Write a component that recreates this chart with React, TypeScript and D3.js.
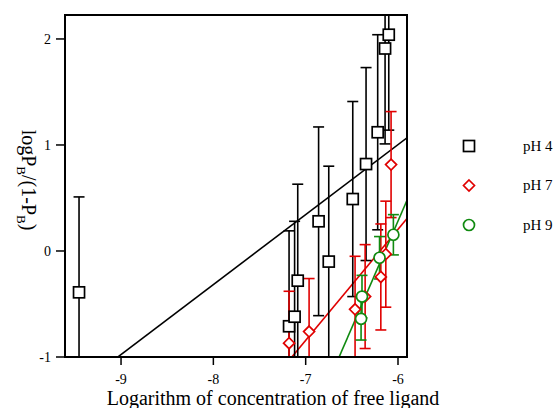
import React from "react";
import * as d3 from "d3";

// pH 4 series (black squares)
const ph4X = [-9.455, -7.18, -7.12, -7.086, -6.86, -6.75, -6.49, -6.346, -6.22, -6.14, -6.1];
const ph4Y = [-0.39, -0.71, -0.62, -0.28, 0.28, -0.1, 0.49, 0.82, 1.12, 1.91, 2.04];
const ph4Err = [0.9, 0.9, 0.9, 0.91, 0.89, 0.9, 0.92, 0.91, 0.92, 0.9, 0.9];

// pH 7 series (red diamonds)
const ph7X = [-7.18, -6.963, -6.465, -6.356, -6.186, -6.132, -6.075];
const ph7Y = [-0.87, -0.76, -0.55, -0.43, -0.245, -0.03, 0.815];
const ph7Err = [0.49, 0.5, 0.5, 0.49, 0.5, 0.5, 0.5];

// pH 9 series (green circles)
const ph9X = [-6.4, -6.39, -6.2, -6.05];
const ph9Y = [-0.64, -0.43, -0.064, 0.153];
const ph9Err = [0.2, 0.2, 0.2, 0.19];

// linear fits: [slope, intercept]
const fitSlopes = [0.66, 1.047, 2.01];
const fitIntercepts = [4.963, 6.486, 12.342];

const xTicks = [-9, -8, -7, -6];
const yTicks = [-1, 0, 1, 2];
const legendLabels = ["pH 4", "pH 7", "pH 9"];

const W = 555;
const H = 408;
const M = { left: 65, right: 407, top: 15, bottom: 357 };

const BLACK = "#000000";
const RED = "#e00000";
const GREEN = "#108a10";
const FONT = "'Liberation Serif', 'Times New Roman', serif";

export default function App() {
  const x = d3.scaleLinear().domain([-9.607, -5.9025]).range([M.left, M.right]);
  const y = d3.scaleLinear().domain([-1, 2.226]).range([M.bottom, M.top]);
  const [x0, x1] = x.domain();

  const line = d3
    .line<[number, number]>()
    .x((d) => x(d[0]))
    .y((d) => y(d[1]));

  const fitColors = [BLACK, RED, GREEN];

  const errorBars = (xs: number[], ys: number[], errs: number[], color: string, key: string) =>
    xs.map((xv, i) => {
      const cx = x(xv);
      const yt = y(ys[i] + errs[i]);
      const yb = y(ys[i] - errs[i]);
      return (
        <g key={`${key}-e${i}`} stroke={color} strokeWidth={1.6}>
          <line x1={cx} x2={cx} y1={yt} y2={yb} />
          <line x1={cx - 5.5} x2={cx + 5.5} y1={yt} y2={yt} />
          <line x1={cx - 5.5} x2={cx + 5.5} y1={yb} y2={yb} />
        </g>
      );
    });

  const square = (cx: number, cy: number, color: string, key: string) => (
    <rect key={key} x={cx - 5.5} y={cy - 5.5} width={11} height={11} fill="white" stroke={color} strokeWidth={1.7} />
  );
  const diamond = (cx: number, cy: number, color: string, key: string) => (
    <path
      key={key}
      d={`M${cx},${cy - 5.5}L${cx + 5.5},${cy}L${cx},${cy + 5.5}L${cx - 5.5},${cy}Z`}
      fill="white"
      stroke={color}
      strokeWidth={1.7}
    />
  );
  const circle = (cx: number, cy: number, color: string, key: string) => (
    <circle key={key} cx={cx} cy={cy} r={5.5} fill="white" stroke={color} strokeWidth={1.7} />
  );

  return (
    <svg
      width={W}
      height={H}
      style={{ position: "absolute", left: 0, top: 0, background: "white" }}
      fontFamily={FONT}
    >
      <defs>
        <clipPath id="plot-clip">
          <rect x={M.left} y={M.top} width={M.right - M.left} height={M.bottom - M.top} />
        </clipPath>
      </defs>

      <g clipPath="url(#plot-clip)">
        {fitSlopes.map((s, i) => (
          <path
            key={`fit${i}`}
            d={line([
              [x0, s * x0 + fitIntercepts[i]],
              [x1, s * x1 + fitIntercepts[i]],
            ]) as string}
            fill="none"
            stroke={fitColors[i]}
            strokeWidth={1.6}
          />
        ))}
        {errorBars(ph4X, ph4Y, ph4Err, BLACK, "p4")}
        {errorBars(ph7X, ph7Y, ph7Err, RED, "p7")}
        {errorBars(ph9X, ph9Y, ph9Err, GREEN, "p9")}
        {ph4X.map((xv, i) => square(x(xv), y(ph4Y[i]), BLACK, `s${i}`))}
        {ph7X.map((xv, i) => diamond(x(xv), y(ph7Y[i]), RED, `d${i}`))}
        {ph9X.map((xv, i) => circle(x(xv), y(ph9Y[i]), GREEN, `c${i}`))}
      </g>

      {/* frame */}
      <rect
        x={M.left}
        y={M.top}
        width={M.right - M.left}
        height={M.bottom - M.top}
        fill="none"
        stroke="black"
        strokeWidth={2}
      />

      {/* x axis ticks */}
      {xTicks.map((t) => (
        <g key={`xt${t}`}>
          <line x1={x(t)} x2={x(t)} y1={M.bottom} y2={M.bottom + 8} stroke="black" strokeWidth={1.5} />
          <text x={x(t)} y={M.bottom + 27} textAnchor="middle" fontSize={14}>
            {t}
          </text>
        </g>
      ))}

      {/* y axis ticks */}
      {yTicks.map((t) => (
        <g key={`yt${t}`}>
          <line x1={M.left - 9} x2={M.left} y1={y(t)} y2={y(t)} stroke="black" strokeWidth={1.5} />
          <text x={M.left - 14} y={y(t) + 5} textAnchor="end" fontSize={14}>
            {t}
          </text>
        </g>
      ))}

      <text x={273} y={405} textAnchor="middle" fontSize={20}>
        Logarithm of concentration of free ligand
      </text>

      <text transform="translate(22,180) rotate(90)" textAnchor="middle" fontSize={20}>
        logP<tspan fontSize={13} dy={5}>B</tspan>
        <tspan dy={-5}>/(1-P</tspan>
        <tspan fontSize={13} dy={5}>B</tspan>
        <tspan dy={-5}>)</tspan>
      </text>

      {/* legend */}
      {legendLabels.map((lab, i) => {
        const ly = 146 + i * 39.5;
        const colors = [BLACK, RED, GREEN];
        const mk =
          i === 0
            ? square(469, ly, colors[i], `lm${i}`)
            : i === 1
            ? diamond(469, ly, colors[i], `lm${i}`)
            : circle(469, ly, colors[i], `lm${i}`);
        return (
          <g key={`leg${i}`}>
            {mk}
            <text x={523} y={ly + 4.5} fontSize={15}>
              {lab}
            </text>
          </g>
        );
      })}
    </svg>
  );
}
